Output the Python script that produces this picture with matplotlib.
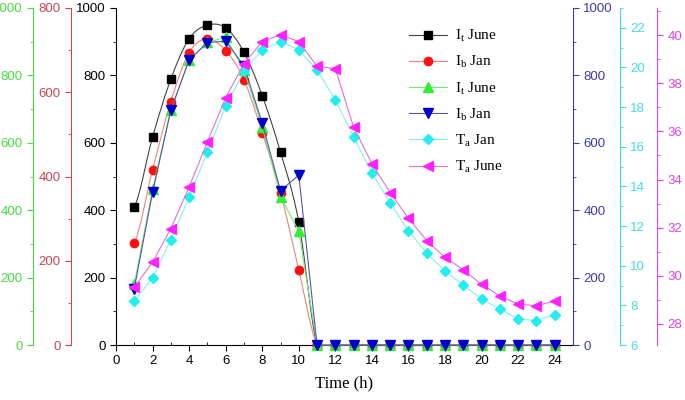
import numpy as np
import matplotlib
matplotlib.use('Agg')
import matplotlib.pyplot as plt
from matplotlib.ticker import MultipleLocator

# ---------------- data ----------------
hours = [1, 2, 3, 4, 5, 6, 7, 8, 9, 10, 11, 12,
         13, 14, 15, 16, 17, 18, 19, 20, 21, 22, 23, 24]
# I_t June (black axis, 0-1000)
it_june_black = [410, 617, 789, 909, 949, 941, 869, 740, 572, 365, 0, 0,
                 0, 0, 0, 0, 0, 0, 0, 0, 0, 0, 0, 0]
# I_b Jan (red axis, 0-800)
ib_jan_red = [242, 416, 578, 694, 727, 699, 630, 504, 362, 178, 0, 0,
              0, 0, 0, 0, 0, 0, 0, 0, 0, 0, 0, 0]
# I_t June (green axis, 0-1000)
it_june_green = [181, 462, 697, 846, 898, 913, 816, 648, 440, 338, 0, 0,
                 0, 0, 0, 0, 0, 0, 0, 0, 0, 0, 0, 0]
# I_b Jan (blue axis, 0-1000)
ib_jan_blue = [167, 453, 697, 846, 897, 902, 828, 658, 458, 504, 0, 0,
               0, 0, 0, 0, 0, 0, 0, 0, 0, 0, 0, 0]
# T_a Jan (cyan axis, 6-23)
ta_jan = [8.21, 9.39, 11.32, 13.45, 15.74, 18.06, 19.8, 20.9, 21.29, 20.9, 19.88, 18.36,
          16.5, 14.67, 13.17, 11.76, 10.63, 9.73, 9.02, 8.32, 7.82, 7.31, 7.23, 7.53]
# T_a June (magenta axis, ~27-41)
ta_june = [29.52, 30.56, 31.96, 33.69, 35.56, 37.4, 38.82, 39.73, 40.02, 39.73, 38.71, 38.61,
           36.17, 34.66, 33.45, 32.38, 31.46, 30.76, 30.25, 29.64, 29.16, 28.82, 28.75, 28.95]

labels = [r'I$_\mathrm{t}$ June', r'I$_\mathrm{b}$ Jan', r'I$_\mathrm{t}$ June',
          r'I$_\mathrm{b}$ Jan', r'T$_\mathrm{a}$ Jan', r'T$_\mathrm{a}$ June']


def catmull(x, y, n=16):
    x = np.asarray(x, float)
    y = np.asarray(y, float)
    xs, ys = [], []
    for i in range(len(x) - 1):
        p0 = y[i - 1] if i > 0 else y[i]
        p1, p2 = y[i], y[i + 1]
        p3 = y[i + 2] if i + 2 < len(y) else y[i + 1]
        t = np.linspace(0, 1, n, endpoint=False)
        yy = 0.5 * ((2 * p1) + (-p0 + p2) * t + (2 * p0 - 5 * p1 + 4 * p2 - p3) * t ** 2
                    + (-p0 + 3 * p1 - 3 * p2 + p3) * t ** 3)
        xs.append(x[i] + (x[i + 1] - x[i]) * t)
        ys.append(yy)
    xs.append([x[-1]])
    ys.append([y[-1]])
    return np.concatenate(xs), np.concatenate(ys)


plt.rcParams['font.family'] = ['Liberation Sans', 'DejaVu Sans']
plt.rcParams['mathtext.fontset'] = 'custom'
plt.rcParams['mathtext.rm'] = 'Liberation Serif'
plt.rcParams['mathtext.it'] = 'Liberation Serif:italic'

fig = plt.figure(figsize=(6.85, 4.0), dpi=100)
ax = fig.add_axes([116 / 685, 1 - 345 / 400, (573 - 116) / 685, (345 - 8) / 400])

TS = 9.5
c_green, c_red, c_blue, c_cyan, c_mag = '#44dd44', '#c84858', '#3c3ca8', '#44dddd', '#e044e0'


def style_axis(a, side, color, pos=None):
    for s in ['top', 'bottom', 'left', 'right']:
        a.spines[s].set_visible(False)
    a.spines[side].set_visible(True)
    a.spines[side].set_color(color)
    if pos is not None:
        a.spines[side].set_position(('axes', pos))
    a.yaxis.set_ticks_position(side)
    a.yaxis.set_label_position(side)
    a.tick_params(axis='y', which='both', colors=color, labelcolor=color,
                  direction='out', labelsize=TS)
    a.tick_params(axis='y', which='major', length=4)
    a.tick_params(axis='y', which='minor', length=2.5)


# main (black) axis
ax.set_xlim(0, 25)
ax.set_ylim(0, 1000)
ax.spines['top'].set_visible(False)
ax.spines['right'].set_visible(False)
ax.xaxis.set_major_locator(MultipleLocator(2))
ax.xaxis.set_minor_locator(MultipleLocator(1))
ax.yaxis.set_major_locator(MultipleLocator(200))
ax.yaxis.set_minor_locator(MultipleLocator(100))
ax.tick_params(axis='both', which='major', direction='out', length=4, labelsize=TS)
ax.tick_params(axis='x', which='minor', direction='in', length=2.5)
ax.tick_params(axis='y', which='minor', direction='out', length=2.5)
ax.set_xlabel('Time (h)', family='Liberation Serif', fontsize=12, labelpad=6)

ax_red = ax.twinx()
ax_green = ax.twinx()
ax_blue = ax.twinx()
ax_cyan = ax.twinx()
ax_mag = ax.twinx()

style_axis(ax_green, 'left', c_green, -0.1816)
ax_green.set_ylim(0, 1000)
ax_green.yaxis.set_major_locator(MultipleLocator(200))
ax_green.yaxis.set_minor_locator(MultipleLocator(100))

style_axis(ax_red, 'left', c_red, -0.0985)
ax_red.set_ylim(0, 800)
ax_red.yaxis.set_major_locator(MultipleLocator(200))
ax_red.yaxis.set_minor_locator(MultipleLocator(100))

style_axis(ax_blue, 'right', c_blue)
ax_blue.set_ylim(0, 1000)
ax_blue.yaxis.set_major_locator(MultipleLocator(200))
ax_blue.yaxis.set_minor_locator(MultipleLocator(100))

style_axis(ax_cyan, 'right', c_cyan, 1.1028)
ax_cyan.set_ylim(6, 23)
ax_cyan.yaxis.set_major_locator(MultipleLocator(2))
ax_cyan.yaxis.set_minor_locator(MultipleLocator(1))

style_axis(ax_mag, 'right', c_mag, 1.1838)
ax_mag.set_ylim(27.12, 41.13)
ax_mag.yaxis.set_major_locator(MultipleLocator(2))
ax_mag.yaxis.set_minor_locator(MultipleLocator(1))

handles = []
# black
sx, sy = catmull(hours, it_june_black)
ax.plot(sx, sy, color='#444444', lw=0.8)
ax.plot(hours, it_june_black, ls='none', marker='s', ms=5.5, color='black', clip_on=False)
handles.append(plt.Line2D([], [], color='#444444', lw=0.8, marker='s', ms=5.5,
                          mfc='black', mec='black'))
# red
sx, sy = catmull(hours, ib_jan_red)
ax_red.plot(sx, sy, color='#f08080', lw=0.8)
ax_red.plot(hours, ib_jan_red, ls='none', marker='o', ms=6, color='#ff1010', clip_on=False)
handles.append(plt.Line2D([], [], color='#f08080', lw=0.8, marker='o', ms=6,
                          mfc='#ff1010', mec='#ff1010'))
# green
ax_green.plot(hours, it_june_green, color='#70ee70', lw=0.8, marker='^', ms=6.5,
              mfc='#33ee33', mec='#33ee33', clip_on=False)
handles.append(plt.Line2D([], [], color='#70ee70', lw=0.8, marker='^', ms=6.5,
                          mfc='#33ee33', mec='#33ee33'))
# blue
ax_blue.plot(hours, ib_jan_blue, color='#5555aa', lw=0.8, marker='v', ms=6.5,
             mfc='#0000cc', mec='#0000cc', clip_on=False)
handles.append(plt.Line2D([], [], color='#5555aa', lw=0.8, marker='v', ms=6.5,
                          mfc='#0000cc', mec='#0000cc'))
# cyan
ax_cyan.plot(hours, ta_jan, color='#88eeee', lw=0.8, marker='D', ms=5.5,
             mfc='#22eeee', mec='#22eeee')
handles.append(plt.Line2D([], [], color='#88eeee', lw=0.8, marker='D', ms=5.5,
                          mfc='#22eeee', mec='#22eeee'))
# magenta
ax_mag.plot(hours, ta_june, color='#e070e0', lw=0.8, marker='<', ms=7,
            mfc='#ff22ff', mec='#ff22ff')
handles.append(plt.Line2D([], [], color='#e070e0', lw=0.8, marker='<', ms=7,
                          mfc='#ff22ff', mec='#ff22ff'))

fig.legend(handles, labels, loc='upper left', bbox_to_anchor=(403 / 685, 1 - 22 / 400),
           frameon=False, prop={'family': 'Liberation Serif', 'size': 11},
           handlelength=2.5, handletextpad=0.5, labelspacing=0.66, borderaxespad=0)

fig.savefig('out.png', dpi=100)
